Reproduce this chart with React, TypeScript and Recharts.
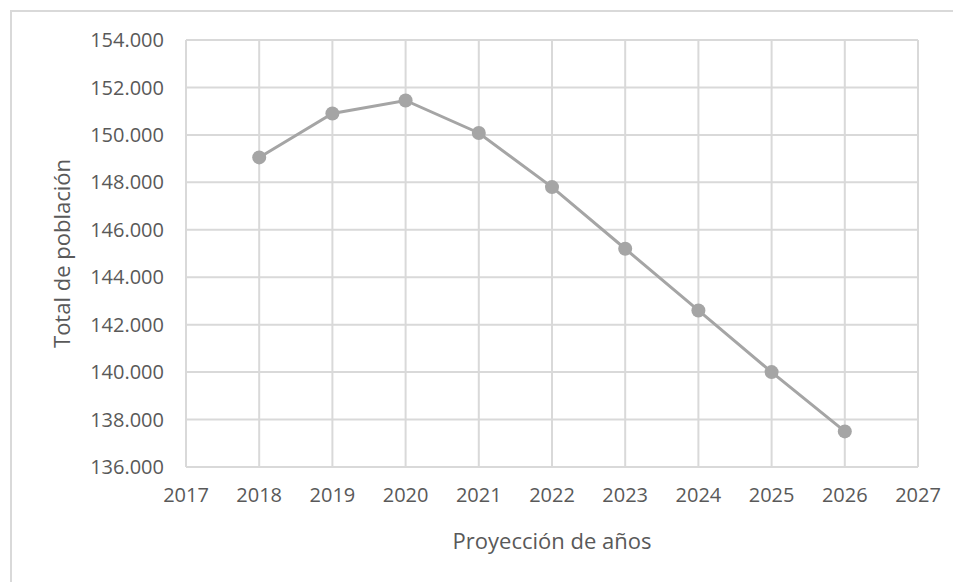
import React from 'react';
import { LineChart, Line, XAxis, YAxis, CartesianGrid } from 'recharts';

const years = [2018, 2019, 2020, 2021, 2022, 2023, 2024, 2025, 2026];
const poblacion = [149050, 150900, 151450, 150080, 147800, 145200, 142600, 140000, 137500];
const xTicks = [2017, 2018, 2019, 2020, 2021, 2022, 2023, 2024, 2025, 2026, 2027];
const yTicks = [136000, 138000, 140000, 142000, 144000, 146000, 148000, 150000, 152000, 154000];

const data = years.map((year, i) => ({ year, value: poblacion[i] }));

const fmt = (v: number) => String(v).replace(/\B(?=(\d{3})+(?!\d))/g, '.');

const FONT = 'Open Sans, Noto Sans, sans-serif';
const TEXT = '#595959';

export default function App() {
  return (
    <div
      style={{
        width: 953,
        height: 574,
        marginLeft: 2,
        marginTop: 2,
        borderTop: '2px solid #d9d9d9',
        borderLeft: '2px solid #d9d9d9',
        boxSizing: 'border-box',
        position: 'relative',
      }}
    >
      <div style={{ position: 'absolute', left: -4, top: -4 }}>
        <LineChart
          width={953}
          height={574}
          data={data}
          margin={{ top: 32, right: 43, left: 0, bottom: 55 }}
        >
          <CartesianGrid stroke="#d9d9d9" strokeWidth={2} />
          <XAxis
            dataKey="year"
            type="number"
            domain={[2017, 2027]}
            ticks={xTicks}
            height={60}
            axisLine={{ stroke: '#d9d9d9', strokeWidth: 2 }}
            tickLine={false}
            tickSize={0}
            tickMargin={21}
            tick={{ fill: TEXT, fontSize: 20, fontFamily: FONT }}
            label={{
              value: 'Proyección de años',
              position: 'insideBottom',
              offset: -22,
              fill: TEXT,
              fontSize: 22,
              fontFamily: FONT,
            }}
          />
          <YAxis
            type="number"
            domain={[136000, 154000]}
            ticks={yTicks}
            width={178}
            tickFormatter={fmt}
            axisLine={{ stroke: '#d9d9d9', strokeWidth: 2 }}
            tickLine={false}
            tickSize={0}
            tickMargin={22}
            tick={{ fill: TEXT, fontSize: 20, fontFamily: FONT }}
            label={{
              value: 'Total de población',
              angle: -90,
              position: 'insideLeft',
              offset: 54,
              style: { textAnchor: 'middle' },
              fill: TEXT,
              fontSize: 22,
              fontFamily: FONT,
            }}
          />
          <Line
            dataKey="value"
            type="linear"
            stroke="#a5a5a5"
            strokeWidth={3}
            dot={{ r: 7, fill: '#a5a5a5', stroke: '#a5a5a5', strokeWidth: 0 }}
            activeDot={false}
            isAnimationActive={false}
          />
        </LineChart>
      </div>
    </div>
  );
}
